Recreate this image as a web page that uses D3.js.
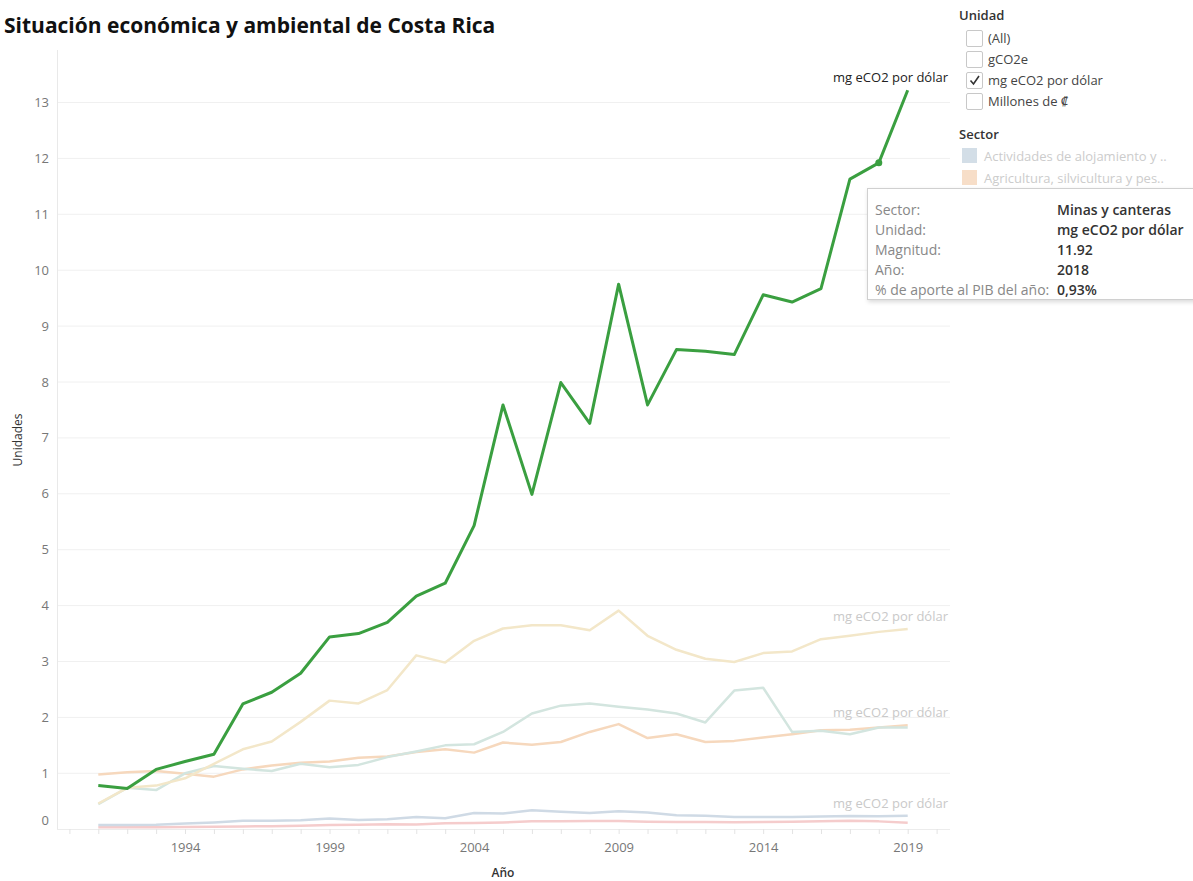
<!DOCTYPE html>
<html>
<head>
<meta charset="utf-8">
<script src="https://cdn.jsdelivr.net/npm/d3@7/dist/d3.min.js"></script>
<style>
  html, body { margin: 0; padding: 0; background: #fff; }
  svg { display: block; font-family: "Open Sans", "Noto Sans", sans-serif; }
</style>
</head>
<body>
<svg id="chart" width="1193" height="881"></svg>
<script>
// Years covered by every series
const years = d3.range(1991, 2020);

// Emission intensity per sector (mg eCO2 por dólar), 1991–2019
const minasCanteras = [0.78, 0.73, 1.07, 1.21, 1.34, 2.24, 2.45, 2.79, 3.44, 3.50, 3.70, 4.17, 4.40,
  5.43, 7.59, 5.99, 7.99, 7.26, 9.75, 7.59, 8.58, 8.55, 8.49, 9.56, 9.43, 9.67, 11.63, 11.92, 13.22];
const sectorBeige = [0.46, 0.74, 0.78, 0.91, 1.17, 1.43, 1.57, 1.92, 2.30, 2.25, 2.49, 3.11, 2.98,
  3.37, 3.59, 3.65, 3.65, 3.56, 3.91, 3.46, 3.21, 3.05, 2.99, 3.15, 3.18, 3.40, 3.46, 3.53, 3.58];
const sectorVerdeClaro = [0.45, 0.74, 0.70, 1.00, 1.13, 1.08, 1.04, 1.17, 1.11, 1.15, 1.29, 1.39, 1.50,
  1.52, 1.74, 2.07, 2.21, 2.25, 2.19, 2.14, 2.07, 1.91, 2.48, 2.53, 1.74, 1.76, 1.70, 1.82, 1.82];
const agricultura = [0.98, 1.02, 1.04, 0.99, 0.94, 1.07, 1.14, 1.19, 1.21, 1.28, 1.30, 1.38, 1.43,
  1.37, 1.55, 1.51, 1.56, 1.74, 1.88, 1.63, 1.70, 1.56, 1.58, 1.64, 1.70, 1.77, 1.78, 1.82, 1.86];
const alojamiento = [0.075, 0.075, 0.08, 0.10, 0.12, 0.15, 0.15, 0.16, 0.19, 0.165, 0.18, 0.22, 0.195,
  0.29, 0.28, 0.34, 0.31, 0.29, 0.32, 0.30, 0.25, 0.24, 0.22, 0.22, 0.22, 0.225, 0.235, 0.23, 0.24];
const sectorRosa = [0.035, 0.035, 0.035, 0.04, 0.045, 0.05, 0.055, 0.06, 0.075, 0.08, 0.09, 0.085, 0.105,
  0.11, 0.12, 0.14, 0.14, 0.145, 0.145, 0.135, 0.13, 0.13, 0.125, 0.13, 0.135, 0.14, 0.15, 0.14, 0.115];

const yTicks = d3.range(0, 14);
const xTickLabels = [1994, 1999, 2004, 2009, 2014, 2019];
const unidadOptions = ["(All)", "gCO2e", "mg eCO2 por dólar", "Millones de ₡"];
const unidadChecked = "mg eCO2 por dólar";
const sectorLegend = ["Actividades de alojamiento y ..", "Agricultura, silvicultura y pes.."];
const tooltipRows = [
  ["Sector:", "Minas y canteras"],
  ["Unidad:", "mg eCO2 por dólar"],
  ["Magnitud:", "11.92"],
  ["Año:", "2018"],
  ["% de aporte al PIB del año:", "0,93%"]
];
const highlightYear = 2018;
const unitLabel = "mg eCO2 por dólar";

// Series in drawing order (pale context lines first, highlighted last)
const series = [
  { name: "Rosa", values: sectorRosa, color: "#f5cccc", width: 2.5, label: false },
  { name: "Actividades de alojamiento", values: alojamiento, color: "#cfdae5", width: 2.5, label: true },
  { name: "Agricultura", values: agricultura, color: "#f6d8bd", width: 2.5, label: false },
  { name: "Verde claro", values: sectorVerdeClaro, color: "#d3e5df", width: 2.5, label: true },
  { name: "Beige", values: sectorBeige, color: "#f3e7c9", width: 2.5, label: true },
  { name: "Minas y canteras", values: minasCanteras, color: "#3a9f40", width: 3, label: true, dark: true }
];

const svg = d3.select("#chart");
const plot = { left: 57, right: 950, top: 50, bottom: 829 };

const x = d3.scaleLinear().domain([1991, 2019]).range([98.3, 907.7]);
const y = d3.scaleLinear().domain([0, 13]).range([829.2, 102.5]);

// Title
svg.append("text")
  .attr("x", 4).attr("y", 33)
  .attr("font-size", 21).attr("font-weight", 700).attr("fill", "#111")
  .text("Situación económica y ambiental de Costa Rica");

// Gridlines
svg.append("g").selectAll("line").data(yTicks.slice(1)).join("line")
  .attr("x1", plot.left).attr("x2", plot.right)
  .attr("y1", d => y(d)).attr("y2", d => y(d))
  .attr("stroke", "#f0f0f0").attr("stroke-width", 1);

// Axis frame
svg.append("line").attr("x1", plot.left + 0.5).attr("x2", plot.left + 0.5)
  .attr("y1", plot.top).attr("y2", plot.bottom).attr("stroke", "#e9e9e9");
svg.append("line").attr("x1", plot.left).attr("x2", plot.right)
  .attr("y1", plot.bottom + 0.5).attr("y2", plot.bottom + 0.5).attr("stroke", "#ececec");

// Y axis labels
svg.append("g").selectAll("text").data(yTicks).join("text")
  .attr("x", 49).attr("y", d => d === 0 ? y(d) - 4 : y(d) + 4.5)
  .attr("text-anchor", "end").attr("font-size", 13).attr("fill", "#777")
  .text(d => d);

// X axis ticks every year, labels every five
const xAxis = d3.axisBottom(x)
  .tickValues(d3.range(1990, 2021))
  .tickSize(5)
  .tickFormat(d => xTickLabels.includes(d) ? d : "");
const gx = svg.append("g").attr("transform", `translate(0,${plot.bottom})`).call(xAxis);
gx.select(".domain").remove();
gx.selectAll(".tick line").attr("stroke", "#e3e3e3");
gx.selectAll(".tick text").attr("font-size", 13).attr("fill", "#777")
  .attr("font-family", "'Open Sans', 'Noto Sans', sans-serif").attr("dy", "1.15em");

// Axis titles
svg.append("text")
  .attr("transform", "translate(22,440) rotate(-90)")
  .attr("text-anchor", "middle").attr("font-size", 12).attr("fill", "#333")
  .text("Unidades");
svg.append("text")
  .attr("x", 503).attr("y", 877).attr("text-anchor", "middle")
  .attr("font-size", 12).attr("font-weight", 600).attr("fill", "#333")
  .text("Año");

// Lines
const line = d3.line().x((d, i) => x(years[i])).y(d => y(d));
svg.append("g").selectAll("path").data(series).join("path")
  .attr("d", d => line(d.values))
  .attr("fill", "none")
  .attr("stroke", d => d.color)
  .attr("stroke-width", d => d.width)
  .attr("stroke-linejoin", "round");

// End labels
svg.append("g").selectAll("text").data(series.filter(s => s.label)).join("text")
  .attr("x", 948)
  .attr("y", d => {
    const v = d.values[d.values.length - 1];
    return d.name === "Verde claro" ? y(d3.max([v, agricultura[agricultura.length - 1]])) - 8 : y(v) - 8;
  })
  .attr("text-anchor", "end").attr("font-size", 13)
  .attr("fill", d => d.dark ? "#222" : "#c9c9c9")
  .text(unitLabel);

// Highlighted point
const hiIdx = years.indexOf(highlightYear);
svg.append("circle")
  .attr("cx", x(highlightYear)).attr("cy", y(minasCanteras[hiIdx]))
  .attr("r", 3.5).attr("fill", "#3a9f40");

// Unidad filter legend
const lg = svg.append("g");
lg.append("text").attr("x", 959).attr("y", 20).attr("font-size", 13)
  .attr("font-weight", 600).attr("fill", "#333").text("Unidad");
unidadOptions.forEach((opt, i) => {
  const yy = 30 + i * 21;
  lg.append("rect").attr("x", 966.5).attr("y", yy + 0.5).attr("width", 16).attr("height", 16)
    .attr("rx", 1.5).attr("fill", "#fff").attr("stroke", "#c8c8c8");
  if (opt === unidadChecked) {
    lg.append("path")
      .attr("d", `M970.5,${yy + 8.5} L973.5,${yy + 12} L979,${yy + 4}`)
      .attr("fill", "none").attr("stroke", "#333").attr("stroke-width", 1.6);
  }
  lg.append("text").attr("x", 988).attr("y", yy + 13).attr("font-size", 13)
    .attr("fill", "#444").text(opt);
});

// Sector legend
lg.append("text").attr("x", 959).attr("y", 139).attr("font-size", 13)
  .attr("font-weight", 600).attr("fill", "#333").text("Sector");
const sectorColors = ["#d3dee7", "#f7dec8"];
sectorLegend.forEach((s, i) => {
  const yy = 148 + i * 22;
  lg.append("rect").attr("x", 962).attr("y", yy).attr("width", 15).attr("height", 15)
    .attr("fill", sectorColors[i]);
  lg.append("text").attr("x", 984).attr("y", yy + 13).attr("font-size", 13)
    .attr("fill", "#cccccc").text(s);
});

// Tooltip
const defs = svg.append("defs");
const f = defs.append("filter").attr("id", "shadow").attr("x", "-10%").attr("y", "-10%")
  .attr("width", "130%").attr("height", "140%");
f.append("feDropShadow").attr("dx", 1).attr("dy", 2).attr("stdDeviation", 2)
  .attr("flood-color", "#000").attr("flood-opacity", 0.15);
const tt = svg.append("g");
tt.append("rect").attr("x", 867.5).attr("y", 188.5).attr("width", 340).attr("height", 111)
  .attr("fill", "#fff").attr("stroke", "#d0d0d0").attr("filter", "url(#shadow)");
tooltipRows.forEach((r, i) => {
  const yy = 215 + i * 20;
  tt.append("text").attr("x", 875).attr("y", yy).attr("font-size", 14)
    .attr("fill", "#888").text(r[0]);
  tt.append("text").attr("x", 1057).attr("y", yy).attr("font-size", 14)
    .attr("font-weight", 600).attr("fill", "#333").text(r[1]);
});
</script>
</body>
</html>
